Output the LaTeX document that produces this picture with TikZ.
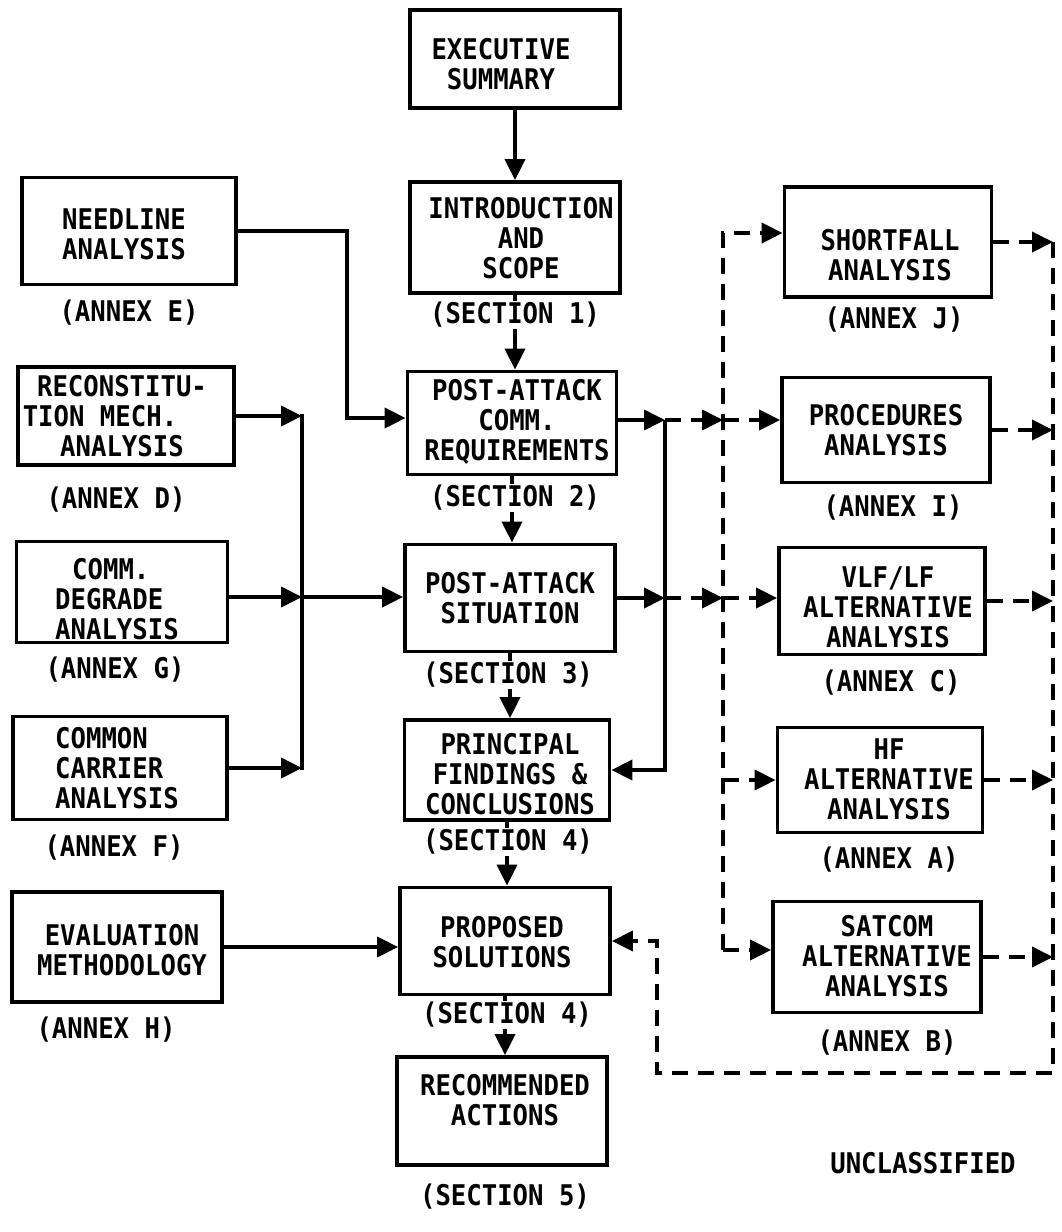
\documentclass[tikz,border=0pt]{standalone}
\usepackage{fontspec}
\setmainfont{DejaVu Sans Mono}[FakeStretch=0.9]
\usetikzlibrary{arrows.meta}
\begin{document}
\begin{tikzpicture}[x=1pt,y=-1pt,
  box/.style={draw, line width=3.8pt, inner sep=0pt},
  txt/.style={font=\bfseries\fontsize{28.5}{30}\selectfont, align=center, inner sep=0pt},
  lbl/.style={txt, fill=white, inner sep=1pt},
  conn/.style={line width=3.8pt, line cap=rect},
  arr/.style={line width=3.8pt, -{Triangle[length=21pt,width=20pt]}},
  dsh/.style={line width=3.8pt, dash pattern=on 16pt off 10pt},
  darr/.style={dsh, -{Triangle[length=21pt,width=20pt]}}]
\fill[white] (0,0) rectangle (1062,1232);
\useasboundingbox (0,0) rectangle (1062,1232);

% centre column boxes
\node[box, minimum width=210pt, minimum height=98pt]  (exec)  at (515,59)   {};
\node[box, minimum width=210pt, minimum height=111pt] (intro) at (515,237.5){};
\node[box, minimum width=209pt, minimum height=103pt] (par)   at (512,423)  {};
\node[box, minimum width=210pt, minimum height=107pt] (pas)   at (510,598)  {};
\node[box, minimum width=205pt, minimum height=100pt] (pfc)   at (507,770)  {};
\node[box, minimum width=210pt, minimum height=107pt] (ps)    at (505,941)  {};
\node[box, minimum width=210pt, minimum height=108pt] (ra)    at (502,1111) {};
% left column boxes
\node[box, minimum width=214pt, minimum height=107pt] (need)  at (129,231)  {};
\node[box, minimum width=216pt, minimum height=98pt]  (recon) at (126,416)  {};
\node[box, minimum width=211pt, minimum height=101pt] (degr)  at (122,592)  {};
\node[box, minimum width=214pt, minimum height=103pt] (carr)  at (120,768)  {};
\node[box, minimum width=210pt, minimum height=110pt] (eval)  at (117,947)  {};
% right column boxes
\node[box, minimum width=207pt, minimum height=110pt] (short) at (888,242)  {};
\node[box, minimum width=208pt, minimum height=105pt] (proc)  at (886,430)  {};
\node[box, minimum width=206pt, minimum height=107pt] (vlf)   at (882,601)  {};
\node[box, minimum width=205pt, minimum height=105pt] (hf)    at (880,780)  {};
\node[box, minimum width=208pt, minimum height=111pt] (sat)   at (877,957)  {};

% texts in boxes
\node[txt] (execT)  at (501,64)  {EXECUTIVE\\SUMMARY};
\node[txt] (introT) at (521,238) {INTRODUCTION\\AND\\SCOPE};
\node[txt] (parT)   at (517,422) {POST-ATTACK\\COMM.\\REQUIREMENTS};
\node[txt] (pasT)   at (510,598) {POST-ATTACK\\SITUATION};
\node[txt] (pfcT)   at (510,774) {PRINCIPAL\\FINDINGS \&\\CONCLUSIONS};
\node[txt] (psT)    at (502,942) {PROPOSED\\SOLUTIONS};
\node[txt] (raT)    at (505,1100){RECOMMENDED\\ACTIONS};
\node[txt] (needT)  at (124,234) {NEEDLINE\\ANALYSIS};
\node[txt] (reconT) at (122,416) {RECONSTITU-\\TION MECH.\hspace*{44pt}\mbox{}\\ANALYSIS};
\node[txt, align=left, anchor=west] (degrT) at (55,599) {\hspace*{17pt}COMM.\\DEGRADE\\ANALYSIS};
\node[txt, align=left, anchor=west] (carrT) at (55,768) {COMMON\\CARRIER\\ANALYSIS};
\node[txt] (evalT)  at (122,950) {EVALUATION\\METHODOLOGY};
\node[txt] (shortT) at (890,255) {SHORTFALL\\ANALYSIS};
\node[txt] (procT)  at (886,430) {PROCEDURES\\ANALYSIS};
\node[txt] (vlfT)   at (888,607) {VLF/LF\\ALTERNATIVE\\ANALYSIS};
\node[txt] (hfT)    at (889,779) {HF\\ALTERNATIVE\\ANALYSIS};
\node[txt] (satT)   at (887,956) {SATCOM\\ALTERNATIVE\\ANALYSIS};

% coordinates for buses
\coordinate (njog)  at (347,418);
\coordinate (lbus)  at (302,597);
\coordinate (rbus)  at (665,420);
\coordinate (dv)    at (723,0);
\coordinate (dvtop) at (723,233);
\coordinate (dvbot) at (723,950);
\coordinate (rv)    at (1053,0);
\coordinate (lbot)  at (657,1073);

% centre column arrows
\draw[arr] (exec.south)  -- (exec.south |- intro.north);
\draw[arr] (intro.south) -- (intro.south |- par.north);
\draw[arr] (par.south)   -- (par.south |- pas.north);
\draw[arr] (pas.south)   -- (pas.south |- pfc.north);
\draw[arr] (pfc.south)   -- (pfc.south |- ps.north);
\draw[arr] (ps.south)    -- (ps.south |- ra.north);

% left side
\draw[arr] (need.east) -| (njog) -- (njog -| par.west);
\draw[conn] (recon.east -| lbus) -- (carr.east -| lbus);
\draw[arr] (recon.east) -- (recon.east -| lbus);
\draw[arr] (degr.east |- lbus) -- (lbus);
\draw[arr] (carr.east) -- (carr.east -| lbus);
\draw[arr] (lbus) -- (lbus -| pas.west);
\draw[arr] (eval.east) -- (eval.east -| ps.west);

% right solid bus
\draw[arr] (par.east |- rbus) -- (rbus);
\draw[arr] (pas.east) -- (pas.east -| rbus);
\draw[arr] (rbus) |- (pfc.east);

% dashed distribution
\draw[darr] (rbus) -- (rbus -| dv);
\draw[darr] (rbus -| dv) -- (rbus -| proc.west);
\draw[darr] (pas.east -| rbus) -- (pas.east -| dv);
\draw[darr] (pas.east -| dv) -- (pas.east -| vlf.west);
\draw[darr] (dvbot) -- (dvtop) -- (dvtop -| short.west);
\draw[darr] (hf.west -| dv) -- (hf.west);
\draw[darr] (dvbot) -- (dvbot -| sat.west);

% dashed return
\draw[darr] (short.east) -- (short.east -| rv);
\draw[darr] (proc.east)  -- (proc.east -| rv);
\draw[darr] (vlf.east)   -- (vlf.east -| rv);
\draw[darr] (hf.east)    -- (hf.east -| rv);
\draw[darr] (sat.east)   -- (sat.east -| rv);
\draw[darr] (short.east -| rv) |- (lbot) -- (lbot |- ps.east) -- (ps.east);

% labels
\node[lbl] (s1)  at (515,315)  {(SECTION 1)};
\node[lbl] (s2)  at (515,498)  {(SECTION 2)};
\node[lbl] (s3)  at (508,675)  {(SECTION 3)};
\node[lbl] (s4a) at (508,842)  {(SECTION 4)};
\node[lbl] (s4b) at (507,1015) {(SECTION 4)};
\node[lbl] (s5)  at (505,1197) {(SECTION 5)};
\node[lbl] (aE)  at (129,313)  {(ANNEX E)};
\node[lbl] (aD)  at (116,500)  {(ANNEX D)};
\node[lbl] (aG)  at (115,670)  {(ANNEX G)};
\node[lbl] (aF)  at (114,848)  {(ANNEX F)};
\node[lbl] (aH)  at (106,1030) {(ANNEX H)};
\node[lbl] (aJ)  at (894,320)  {(ANNEX J)};
\node[lbl] (aI)  at (893,508)  {(ANNEX I)};
\node[lbl] (aC)  at (891,683)  {(ANNEX C)};
\node[lbl] (aA)  at (889,860)  {(ANNEX A)};
\node[lbl] (aB)  at (887,1043) {(ANNEX B)};
\node[txt] (uncl) at (923,1163) {UNCLASSIFIED};
\end{tikzpicture}
\end{document}
